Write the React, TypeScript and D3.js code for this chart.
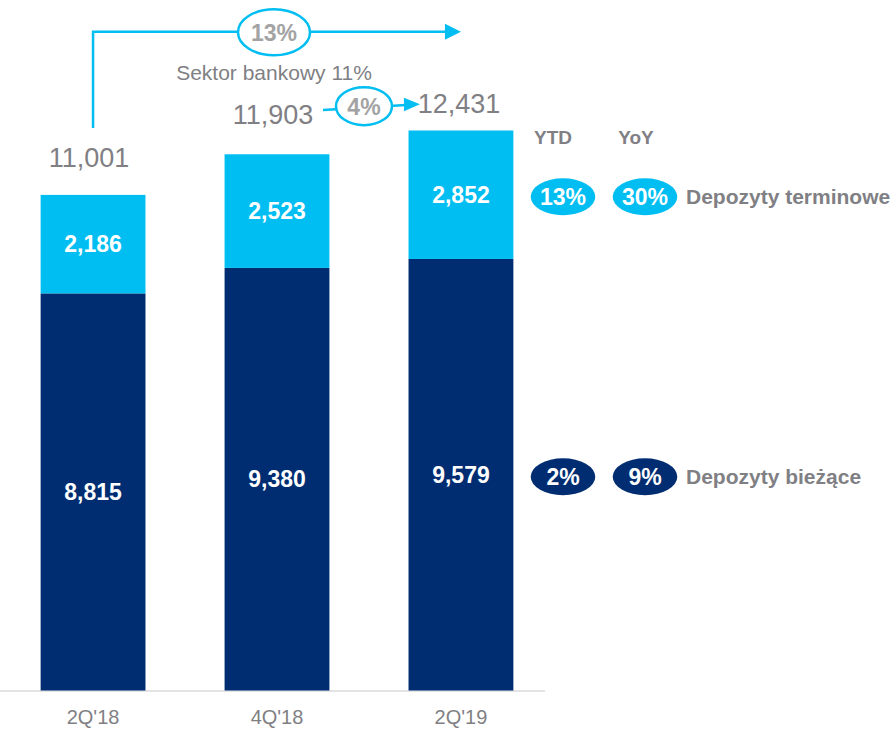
import React from "react";
import * as d3 from "d3";

// ---- data ----
const categories = ["2Q'18", "4Q'18", "2Q'19"];
const biezace = [8815, 9380, 9579]; // Depozyty bieżące
const terminowe = [2186, 2523, 2852]; // Depozyty terminowe
const seriesNames = ["Depozyty terminowe", "Depozyty bieżące"];
const ytdValues = ["13%", "2%"];
const yoyValues = ["30%", "9%"];
const legendHeads = ["YTD", "YoY"];
const growthLong = "13%";
const growthShort = "4%";
const sectorLabel = "Sektor bankowy 11%";

// ---- style ----
const W = 895;
const H = 729;
const CYAN = "#00BEF2";
const NAVY = "#002D72";
const GREY = "#7F7F84";
const LIGHTGREY = "#A3A3A3";
const FONT = "'Liberation Sans', Arial, Helvetica, sans-serif";
const totalLift = [28, 30, 17];

export default function App() {
  const x = d3.scaleBand<string>().domain(categories).range([2, 552]).paddingInner(0.43).paddingOuter(0.21);
  const base = 690.5;
  const y = d3.scaleLinear().domain([0, 15000]).range([base, base - 15000 * 0.04505]);
  const bw = x.bandwidth();
  const cx = (i: number) => (x(categories[i]) as number) + bw / 2;
  const totals = categories.map((_, i) => biezace[i] + terminowe[i]);
  const fmt = d3.format(",");

  const last = categories.length - 1;
  const rowY = [
    (y(biezace[last]) + y(totals[last])) / 2 + 2,
    (y(0) + y(biezace[last])) / 2 + 2,
  ];
  const rowColors = [CYAN, NAVY];

  // top arrow geometry
  const topY = 31.7;
  const arrowStartX = cx(0);
  const arrowStartY = y(totals[0]) - 67;
  const arrowTipX = cx(2);
  const bigEllX = cx(1) - 3;

  // small arrow
  const a2x0 = cx(1) + 46;
  const a2y0 = 110;
  const a2x1 = cx(2) - 41;
  const a2y1 = 104.3;
  const e2x = (a2x0 + a2x1) / 2 - 7.5;
  const e2y = (a2y0 + a2y1) / 2 - 1;

  return (
    <div style={{ position: "fixed", left: 0, top: 0, width: W, height: H, background: "#fff" }}>
      <svg width={W} height={H} style={{ display: "block", fontFamily: FONT }}>
        {/* axis line */}
        <line x1={0} x2={545} y1={base + 0.5} y2={base + 0.5} stroke="#DADADA" strokeWidth={1.5} />

        {/* bars */}
        {categories.map((c, i) => (
          <g key={c}>
            <rect x={x(c)} width={bw} y={y(biezace[i])} height={y(0) - y(biezace[i])} fill={NAVY} />
            <rect x={x(c)} width={bw} y={y(totals[i])} height={y(biezace[i]) - y(totals[i])} fill={CYAN} />
            <text x={cx(i)} y={(y(0) + y(biezace[i])) / 2 + 8} textAnchor="middle" fill="#fff" fontWeight="bold" fontSize={23}>
              {fmt(biezace[i])}
            </text>
            <text x={cx(i)} y={(y(biezace[i]) + y(totals[i])) / 2 + 8} textAnchor="middle" fill="#fff" fontWeight="bold" fontSize={23}>
              {fmt(terminowe[i])}
            </text>
            <text x={cx(i) - (i === 2 ? 2 : 4)} y={y(totals[i]) - totalLift[i]} textAnchor="middle" fill={GREY} fontSize={27}>
              {fmt(totals[i])}
            </text>
            <text x={cx(i)} y={724} textAnchor="middle" fill={GREY} fontSize={20}>
              {c}
            </text>
          </g>
        ))}

        {/* top growth arrow */}
        <path
          d={`M${arrowStartX},${arrowStartY} L${arrowStartX},${topY} L${arrowTipX - 14},${topY}`}
          fill="none"
          stroke={CYAN}
          strokeWidth={2.5}
        />
        <path d={`M${arrowTipX},${topY} L${arrowTipX - 16},${topY - 8} L${arrowTipX - 16},${topY + 8} Z`} fill={CYAN} />
        <ellipse cx={bigEllX} cy={topY + 0.5} rx={36} ry={23} fill="#fff" stroke={CYAN} strokeWidth={2.5} />
        <text x={bigEllX} y={topY + 9} textAnchor="middle" fill={LIGHTGREY} fontWeight="bold" fontSize={23}>
          {growthLong}
        </text>
        <text x={bigEllX} y={80} textAnchor="middle" fill={GREY} fontSize={21}>
          {sectorLabel}
        </text>

        {/* small growth arrow */}
        <path d={`M${a2x0},${a2y0} L${a2x1 - 14},${a2y1 + 0.8}`} fill="none" stroke={CYAN} strokeWidth={2.5} />
        <path
          d={`M${a2x1},${a2y1} L${a2x1 - 16},${a2y1 - 6.5} L${a2x1 - 16},${a2y1 + 7} Z`}
          fill={CYAN}
        />
        <ellipse cx={e2x} cy={e2y} rx={28} ry={19} fill="#fff" stroke={CYAN} strokeWidth={2.5} />
        <text x={e2x} y={e2y + 8.5} textAnchor="middle" fill={LIGHTGREY} fontWeight="bold" fontSize={23}>
          {growthShort}
        </text>

        {/* legend */}
        {legendHeads.map((h, j) => (
          <text key={h} x={[553, 636][j]} y={143.5} textAnchor="middle" fill={GREY} fontWeight="bold" fontSize={19}>
            {h}
          </text>
        ))}
        {seriesNames.map((name, r) => (
          <g key={name}>
            {[ytdValues[r], yoyValues[r]].map((v, j) => (
              <g key={j}>
                <ellipse cx={[563, 645][j]} cy={rowY[r]} rx={32.3} ry={18.5} fill={rowColors[r]} />
                <text x={[563, 645][j]} y={rowY[r] + 8} textAnchor="middle" fill="#fff" fontWeight="bold" fontSize={23}>
                  {v}
                </text>
              </g>
            ))}
            <text x={686} y={rowY[r] + 7.5} fill={GREY} fontWeight="bold" fontSize={21}>
              {name}
            </text>
          </g>
        ))}
      </svg>
    </div>
  );
}
